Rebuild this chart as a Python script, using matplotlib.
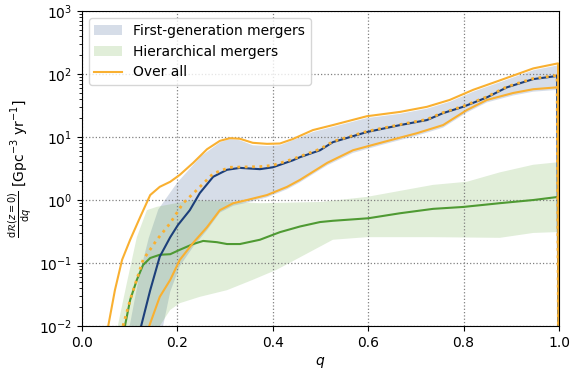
import numpy as np
import matplotlib
matplotlib.use("Agg")
import matplotlib.pyplot as plt

# first-generation mergers: median and band
fg_med_q = [0.124, 0.143, 0.163, 0.185, 0.201, 0.226, 0.247, 0.275, 0.304, 0.331, 0.373, 0.400,
            0.442, 0.457, 0.499, 0.526, 0.597, 0.667, 0.723, 0.757, 0.799, 0.849, 0.891, 0.946, 0.996, 1.0]
fg_med = [0.010, 0.037, 0.126, 0.257, 0.40, 0.69, 1.29, 2.34, 3.02, 3.24, 3.09, 3.31,
          4.27, 4.79, 6.17, 8.3, 12.0, 15.5, 18.6, 24.0, 30.2, 42.7, 61.7, 83.2, 93.3, 1e-4]

fg_hi_q = [0.10, 0.12, 0.14, 0.16, 0.20, 0.25, 0.29, 0.31, 0.331, 0.358, 0.388, 0.415, 0.442,
           0.484, 0.526, 0.597, 0.667, 0.723, 0.771, 0.82, 0.876, 0.946, 0.998]
fg_hi = [0.010, 0.063, 0.25, 0.71, 1.9, 5.0, 8.3, 9.3, 8.9, 7.4, 7.2, 7.4, 8.9,
         12.0, 14.5, 20.0, 23.4, 28.2, 36.3, 52.5, 74.1, 115, 138]
fg_lo_q = [0.17, 0.185, 0.205, 0.233, 0.262, 0.289, 0.317, 0.346, 0.388, 0.430, 0.457, 0.499,
           0.514, 0.568, 0.631, 0.702, 0.757, 0.807, 0.849, 0.904, 0.946, 0.998]
fg_lo = [0.010, 0.035, 0.089, 0.18, 0.33, 0.63, 0.81, 0.91, 1.10, 1.48, 1.91, 3.02,
         3.55, 5.6, 7.6, 10.5, 14.1, 24.5, 35.5, 45.7, 52.5, 56.2]

# hierarchical mergers: median and band
h_med_q = [0.090, 0.101, 0.115, 0.128, 0.143, 0.163, 0.185, 0.205, 0.233, 0.254, 0.283, 0.304,
           0.331, 0.373, 0.415, 0.457, 0.499, 0.526, 0.600, 0.667, 0.736, 0.799, 0.876, 0.946, 0.998, 1.0]
h_med = [0.010, 0.026, 0.054, 0.093, 0.12, 0.135, 0.138, 0.162, 0.20, 0.224, 0.214, 0.20,
         0.20, 0.234, 0.309, 0.38, 0.447, 0.468, 0.513, 0.617, 0.724, 0.776, 0.891, 1.0, 1.12, 1e-4]

h_hi_q = [0.075, 0.094, 0.115, 0.136, 0.157, 0.233, 0.373, 0.5, 0.597, 0.736, 0.807, 0.876, 0.946, 0.998]
h_hi = [0.010, 0.048, 0.257, 0.69, 0.78, 1.0, 0.89, 0.93, 1.12, 1.74, 1.95, 2.75, 3.63, 3.98]
h_lo_q = [0.163, 0.185, 0.205, 0.247, 0.304, 0.358, 0.408, 0.457, 0.526, 0.597, 0.736, 0.876, 0.946, 0.998]
h_lo = [0.010, 0.018, 0.023, 0.029, 0.037, 0.054, 0.078, 0.123, 0.234, 0.257, 0.257, 0.251, 0.30, 0.31]

# over all: median and bounds
all_med_q = [0.086, 0.101, 0.128, 0.157, 0.185, 0.212, 0.241, 0.275, 0.310, 0.373, 0.400, 0.442,
             0.499, 0.526, 0.597, 0.667, 0.723, 0.757, 0.799, 0.849, 0.891, 0.946, 0.996, 1.0]
all_med = [0.010, 0.026, 0.112, 0.234, 0.43, 0.89, 1.45, 2.63, 3.31, 3.39, 3.55, 4.47,
           6.46, 8.5, 12.3, 15.8, 19.1, 24.5, 30.9, 43.7, 63.1, 85.1, 95.5, 1e-4]
all_hi_q = [0.055, 0.069, 0.084, 0.101, 0.122, 0.143, 0.163, 0.185, 0.205, 0.233, 0.262, 0.289,
            0.310, 0.331, 0.358, 0.388, 0.415, 0.442, 0.484, 0.526, 0.597, 0.667, 0.723, 0.771,
            0.820, 0.876, 0.946, 0.998, 1.0]
all_hi = [0.010, 0.037, 0.112, 0.234, 0.537, 1.20, 1.62, 1.95, 2.51, 3.89, 6.4, 8.7,
          9.6, 9.4, 8.1, 7.8, 7.9, 9.3, 12.9, 15.5, 21.4, 25.1, 30.2, 38.9,
          56.2, 79.4, 123, 148, 1e-4]
all_lo_q = [0.141, 0.163, 0.185, 0.205, 0.233, 0.262, 0.289, 0.317, 0.346, 0.388, 0.430, 0.457,
            0.499, 0.514, 0.568, 0.631, 0.702, 0.757, 0.807, 0.849, 0.904, 0.946, 0.998, 1.0]
all_lo = [0.010, 0.029, 0.054, 0.112, 0.209, 0.37, 0.69, 0.89, 1.0, 1.20, 1.62, 2.09,
          3.3, 3.89, 6.17, 8.3, 11.5, 15.5, 26.9, 38.9, 50.1, 57.5, 61.7, 1e-4]

ORANGE = '#f9b031'
BLUE = '#1c3f7a'
GREEN = '#4f9a33'

fig = plt.figure(figsize=(5.71, 3.70), dpi=100)
ax = fig.add_axes([0.1436, 0.119, 0.8354, 0.851])

fg_band = ax.fill(np.concatenate([fg_hi_q, fg_lo_q[::-1]]), np.concatenate([fg_hi, fg_lo[::-1]]),
                  color='#34598f', alpha=0.2, lw=0, label='First-generation mergers')[0]
h_band = ax.fill(np.concatenate([h_hi_q, h_lo_q[::-1]]), np.concatenate([h_hi, h_lo[::-1]]),
                 color='#6aab45', alpha=0.2, lw=0, label='Hierarchical mergers')[0]

ax.plot(h_med_q, h_med, color=GREEN, lw=1.5)
ax.plot(fg_med_q, fg_med, color=BLUE, lw=1.5)
over, = ax.plot(all_hi_q, all_hi, color=ORANGE, lw=1.5, label='Over all')
ax.plot(all_lo_q, all_lo, color=ORANGE, lw=1.5)
ax.plot(all_med_q, all_med, color=ORANGE, lw=2, ls=':')

ax.set_yscale('log')
ax.set_xlim(0, 1)
ax.set_ylim(1e-2, 1e3)
ax.set_xticks([0.0, 0.2, 0.4, 0.6, 0.8, 1.0])
ax.grid(True, which='major', ls=':', color='grey', lw=0.9)
ax.set_xlabel('$q$')
ax.set_ylabel(r'$\frac{\mathrm{d}\mathcal{R}(z=0)}{\mathrm{d}q}$ [Gpc$^{-3}$ yr$^{-1}$]')

ax.legend(handles=[fg_band, h_band, over], loc='upper left', fontsize=10)

fig.savefig('out.png', dpi=100)
